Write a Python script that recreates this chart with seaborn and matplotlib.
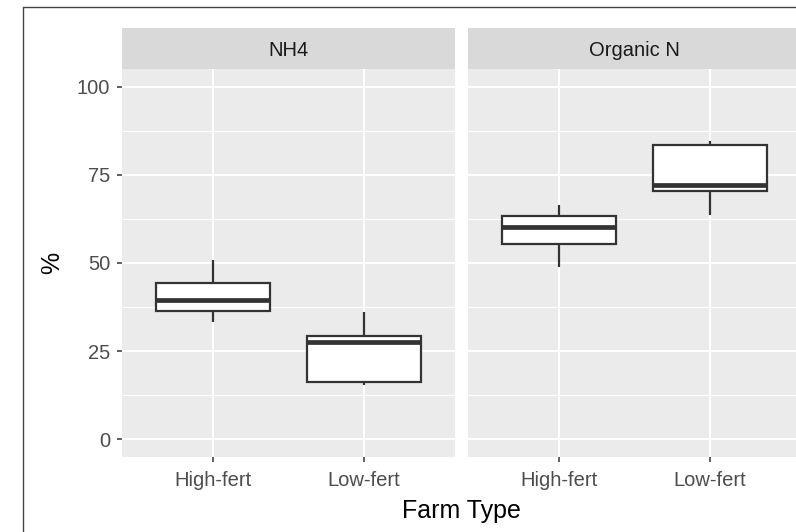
import numpy as np
import pandas as pd
import matplotlib
matplotlib.use("Agg")
import matplotlib.pyplot as plt
from matplotlib.lines import Line2D
import seaborn as sns

# ---- data ----
categories = ["High-fert", "Low-fert"]
panels = ["NH4", "Organic N"]
nh4_high = [33.3, 36.5, 39.5, 44.4, 50.9]
nh4_low = [15.3, 16.3, 27.7, 29.4, 36.2]
org_high = [49.0, 55.3, 60.3, 63.4, 66.5]
org_low = [63.6, 70.5, 72.2, 83.5, 84.7]
y_ticks = [0, 25, 50, 75, 100]
y_minor = [12.5, 37.5, 62.5, 87.5]

rows = []
for panel, groups in zip(panels, [(nh4_high, nh4_low), (org_high, org_low)]):
    for cat, vals in zip(categories, groups):
        for v in vals:
            rows.append({"panel": panel, "farm": cat, "value": v})
df = pd.DataFrame(rows)

sns.set_style("white")
plt.rcParams["font.family"] = ["Liberation Sans", "DejaVu Sans"]

W, H = 796, 532
fig = plt.figure(figsize=(W / 100, H / 100), dpi=100)
fig.patch.set_facecolor("white")

def fx(px):
    return px / W

def fy(py):
    return (H - py) / H

panel_top, panel_bot = 69, 457
strip_top = 27.5
panel_w = 333
lefts = [122, 468]

for i, (panel, left) in enumerate(zip(panels, lefts)):
    ax = fig.add_axes([fx(left), fy(panel_bot), panel_w / W, (panel_bot - panel_top) / H])
    ax.set_facecolor("#EBEBEB")
    ax.set_axisbelow(True)
    sub = df[df["panel"] == panel]
    sns.boxplot(data=sub, x="farm", y="value", order=categories, ax=ax,
                color="white", saturation=1, linecolor="#333333", linewidth=1.6,
                width=0.75, whis=1.5, showcaps=False,
                medianprops=dict(linewidth=3.4, color="#333333"))
    ax.set_xlim(-0.6, 1.6)
    ax.set_ylim(-5, 105)
    ax.set_yticks(y_ticks)
    ax.set_yticks(y_minor, minor=True)
    ax.grid(True, which="major", color="white", linewidth=1.5)
    ax.grid(True, which="minor", axis="y", color="white", linewidth=0.8)
    ax.grid(False, which="minor", axis="x")
    for s in ax.spines.values():
        s.set_visible(False)
    ax.set_xlabel("")
    ax.set_ylabel("")
    ax.tick_params(axis="x", which="major", bottom=True, length=3.6, width=1.1,
                   color="#333333", labelsize=14.5, labelcolor="#4D4D4D", pad=6.5)
    ax.tick_params(axis="y", which="minor", left=False, length=0)
    if i == 0:
        ax.tick_params(axis="y", which="major", left=True, length=3.6, width=1.1,
                       color="#333333", labelsize=14.5, labelcolor="#4D4D4D", pad=5)
    else:
        ax.tick_params(axis="y", which="major", left=False, length=0, labelleft=False)

    # facet strip
    sax = fig.add_axes([fx(left), fy(panel_top), panel_w / W, (panel_top - strip_top) / H])
    sax.set_facecolor("#D9D9D9")
    sax.set_xticks([])
    sax.set_yticks([])
    for s in sax.spines.values():
        s.set_visible(False)
    sax.text(0.5, fy(56), panel,
             transform=matplotlib.transforms.blended_transform_factory(sax.transAxes, fig.transFigure),
             ha="center", va="baseline", fontsize=14.5, color="#1A1A1A")

# axis titles
fig.text(fx((122 + 801) / 2), fy(518), "Farm Type", ha="center", va="baseline",
         fontsize=18, color="black")
fig.text(fx(52), fy(263), "%", ha="center", va="center", rotation=90,
         fontsize=18, color="black")

# outer frame (cropped figure border)
fig.add_artist(Line2D([fx(23), fx(23)], [0, fy(7.3)], color="#444444", linewidth=1.0))
fig.add_artist(Line2D([fx(23), 1], [fy(7.3), fy(7.3)], color="#444444", linewidth=1.0))

fig.savefig("out.png", dpi=100)
